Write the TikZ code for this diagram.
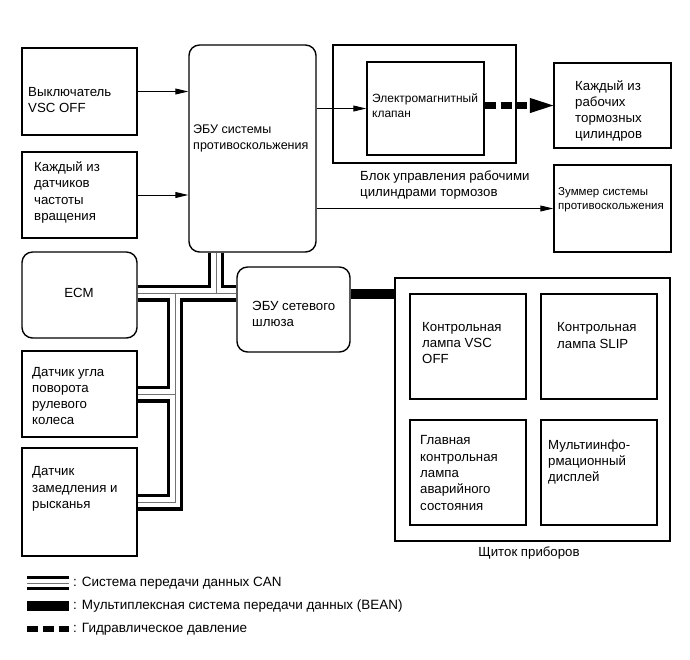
\documentclass[tikz,border=0pt]{standalone}
\usepackage{fontspec}
\setmainfont{Liberation Sans}
\usetikzlibrary{arrows.meta,positioning,calc,fit,backgrounds}

\begin{document}
\begin{tikzpicture}[x=0.03cm,y=-0.03cm]
  \tikzset{box/.style={draw,line width=1.2pt,inner sep=0pt},
    rbox/.style={box,rounded corners=9pt},
    txt/.style={inner sep=0pt,align=left,anchor=west,font=\fontsize{11.3}{13.9}\selectfont},
    small/.style={font=\fontsize{9.8}{12}\selectfont},
    narrow/.style={font=\fontsize{10.7}{13.2}\selectfont},
    sig/.style={line width=0.8pt,-{Triangle[length=11pt,width=5pt]}},
    bean/.style={line width=7.7pt},
    hydr/.style={line width=5.2pt,dash pattern=on 9.5pt off 4pt}}
  \useasboundingbox (0,0) rectangle (690,659);

  \node[box,fit={(22,48)(137,135)}] (vsc) {};
  \node[box,fit={(22,152)(137,238)}] (speed) {};
  \node[rbox,fit={(189,45)(316,252)}] (ecu) {};
  \node[box,fit={(333,45)(516,163)}] (block) {};
  \node[box,fit={(367,62)(484,155)}] (valve) {};
  \node[box,fit={(554,63)(671,148)}] (cyl) {};
  \node[box,fit={(554,165)(671,252)}] (buzzer) {};
  \node[rbox,fit={(22,252)(137,338)}] (ecm) {};
  \node[rbox,fit={(237,267)(350,352)}] (gw) {};
  \node[box,fit={(22,351)(137,437)}] (steer) {};
  \node[box,fit={(22,448)(137,556)}] (yaw) {};
  \node[box,fit={(395,278)(670,541)}] (panel) {};
  \node[box,fit={(410,294)(526,399)}] (lvsc) {};
  \node[box,fit={(541,294)(657,399)}] (lslip) {};
  \node[box,fit={(410,420)(526,525)}] (lmaster) {};
  \node[box,fit={(541,420)(657,525)}] (mid) {};

  \node[txt] (vsc-t) at (28,100) {Выключатель\\VSC OFF};
  \node[txt] (speed-t) at (34,192.5) {Каждый из\\датчиков\\частоты\\вращения};
  \node[txt,narrow] (ecu-t) at (193,138.5) {ЭБУ системы\\противоскольжения};
  \node[txt,font=\fontsize{10.2}{12.8}\selectfont] (valve-t) at (372,105.5) {Электромагнитный\\клапан};
  \node[txt] (cyl-t) at (575,111) {Каждый из\\рабочих\\тормозных\\цилиндров};
  \node[txt] (block-t) at (360,185) {Блок управления рабочими\\цилиндрами тормозов};
  \node[txt,small] (buzzer-t) at (558,200) {Зуммер системы\\противоскольжения};
  \node[txt,anchor=center] (ecm-t) at (79,293) {ECM};
  \node[txt] (gw-t) at (252,314) {ЭБУ сетевого\\шлюза};
  \node[txt] (steer-t) at (32,396) {Датчик угла\\поворота\\рулевого\\колеса};
  \node[txt] (yaw-t) at (32,489) {Датчик\\замедления и\\рысканья};
  \node[txt] (lvsc-t) at (422,343) {Контрольная\\лампа VSC\\OFF};
  \node[txt] (lslip-t) at (557,335.5) {Контрольная\\лампа SLIP};
  \node[txt] (lmaster-t) at (420,473) {Главная\\контрольная\\лампа\\аварийного\\состояния};
  \node[txt] (mid-t) at (548,462) {Мультиинфо-\\рмационный\\дисплей};
  \node[txt,anchor=center] (panel-t) at (529,553) {Щиток приборов};

  \draw[sig] (vsc.east) -- (vsc.east -| ecu.west);
  \draw[sig] (speed.east) -- (speed.east -| ecu.west);
  \draw[sig] (ecu.east |- valve.west) -- (valve.west);
  \draw[sig] (ecu.east |- buzzer.west) -- (buzzer.west);
  \draw[hydr,-{Triangle[length=20pt,width=13pt,line width=0pt]}] (valve.east |- cyl.west) -- (cyl.west);

  \coordinate (b1) at ($(gw.east)+(0,-15.5)$);
  \draw[bean] (b1) -- (b1 -| panel.west);

  \coordinate (jt) at (216,293);
  \coordinate (jl) at (175,293);
  \begin{scope}[on background layer]
    \foreach \lw/\col in {14.5pt/black,7.7pt/white,0.6pt/black!55}
      \draw[line width=\lw,\col] (ecm.east |- jt) -- (gw.west |- jt)
        (ecu.south -| jt) -- (jt)
        (jl) |- (yaw.east)
        (steer.east) -- (steer.east -| jl);
  \end{scope}

  % legend
  \tikzset{txt/.append style={font=\fontsize{11.5}{13.9}\selectfont}}
  \node[txt] (lg-can) at (73,583) {: Система передачи данных CAN};
  \node[txt] (lg-bean) at (73,606) {: Мультиплексная система передачи данных (BEAN)};
  \node[txt] (lg-hyd) at (73,629) {: Гидравлическое давление};
  \foreach \lw/\col in {12pt/black,6.5pt/white,0.6pt/black!55}
    \draw[line width=\lw,\col] ($(lg-can.west)+(-46,0)$) -- ($(lg-can.west)+(-4,0)$);
  \draw[bean] ($(lg-bean.west)+(-46,0)$) -- ($(lg-bean.west)+(-4,0)$);
  \draw[hydr] ($(lg-hyd.west)+(-46,0)$) -- ($(lg-hyd.west)+(-4,0)$);
\end{tikzpicture}
\end{document}
